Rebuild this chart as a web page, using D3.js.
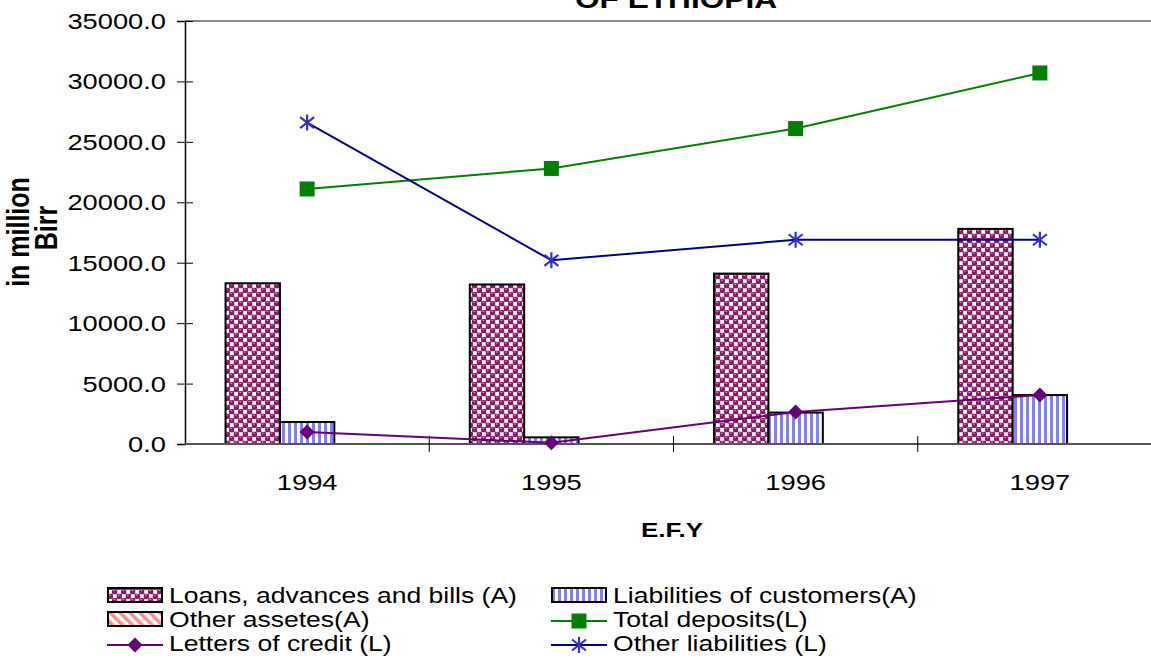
<!DOCTYPE html>
<html lang="en">
<head>
<meta charset="UTF-8">
<title>Commercial banks of Ethiopia</title>
<script src="https://d3js.org/d3.v7.min.js"></script>
<style>
    body { margin: 0; background: #fff; }
    svg { display: block; font-family: Arial, "Liberation Sans", sans-serif; }
</style>
</head>
<body>
<svg id="chart" width="1151" height="663"></svg>
<script>
// data (million Birr)
const years = ["1994", "1995", "1996", "1997"];
const loans = [13300, 13200, 14100, 17800];
const liabCustomers = [1820, 550, 2600, 4050];
const otherAssets = [0, 0, 0, 0];
const totalDeposits = [21100, 22800, 26100, 30700];
const otherLiabilities = [26600, 15200, 16900, 16900];
const lettersCredit = [1000, 100, 2650, 4050];
const yTicks = [0, 5000, 10000, 15000, 20000, 25000, 30000, 35000];

const svg = d3.select("#chart");
const sx = 1.24; // the original picture is stretched sideways

// plot area
const plotLeft = 185, plotTop = 21, plotBottom = 444, plotRight = 1151;

// patterns for the bars
const defs = svg.append("defs");

const sphere = defs.append("pattern").attr("id", "sphere")
    .attr("patternUnits", "userSpaceOnUse").attr("width", 9).attr("height", 9);
sphere.append("rect").attr("width", 9).attr("height", 9).attr("fill", "#b2649c");
[[6.75, 2.25], [2.25, 6.75]].forEach(c => {
    sphere.append("rect").attr("x", c[0] - 1.9).attr("y", c[1] - 1.9).attr("width", 3.8).attr("height", 3.8).attr("fill", "#fff");
});
[[2.25, 2.25], [6.75, 6.75]].forEach(c => {
    sphere.append("circle").attr("cx", c[0]).attr("cy", c[1]).attr("r", 2.8).attr("fill", "#881a68");
    sphere.append("rect").attr("x", c[0] - 1.2).attr("y", c[1] - 1.6).attr("width", 1.6).attr("height", 0.9).attr("fill", "#e0b4d4");
});

const vstripe = defs.append("pattern").attr("id", "vstripe")
    .attr("patternUnits", "userSpaceOnUse").attr("width", 6).attr("height", 6);
vstripe.append("rect").attr("width", 6).attr("height", 6).attr("fill", "#fff");
vstripe.append("rect").attr("width", 3).attr("height", 6).attr("fill", "#7f7fff");

const dstripe = defs.append("pattern").attr("id", "dstripe")
    .attr("patternUnits", "userSpaceOnUse").attr("width", 7).attr("height", 7)
    .attr("patternTransform", "rotate(-45)");
dstripe.append("rect").attr("width", 7).attr("height", 7).attr("fill", "#fff");
dstripe.append("rect").attr("width", 3.5).attr("height", 7).attr("fill", "#ff8c8c");

// scales
const x0 = d3.scaleBand().domain(years).range([plotLeft, 1162])
    .paddingInner(0.332).paddingOuter(0.166);
const barSeries = [
    { name: "Loans, advances and bills (A)", values: loans, fill: "url(#sphere)" },
    { name: "Liabilities of customers(A)", values: liabCustomers, fill: "url(#vstripe)" },
    { name: "Other assetes(A)", values: otherAssets, fill: "url(#dstripe)" }
];
const x1 = d3.scaleBand().domain(barSeries.map(d => d.name)).range([0, x0.bandwidth()]);
const y = d3.scaleLinear().domain([0, 35000]).range([plotBottom, plotTop]);

function stretchText(g, x, yy, str, size, weight, anchor) {
    return g.append("text")
        .attr("transform", "translate(" + x + "," + yy + ") scale(" + sx + ",1)")
        .attr("text-anchor", anchor || "start")
        .attr("font-size", size)
        .attr("font-weight", weight || "normal")
        .attr("fill", "#000")
        .text(str);
}

// title (only its last line shows, as in the original)
stretchText(svg, 676, 8, "OF ETHIOPIA", 25.5, "bold", "middle");

// top border of plot area
svg.append("line").attr("x1", plotLeft).attr("x2", plotRight).attr("y1", y(35000)).attr("y2", y(35000))
    .attr("stroke", "#8a8a8a").attr("stroke-width", 2);

// bars
barSeries.forEach(s => {
    svg.append("g").selectAll("rect")
        .data(s.values.map((v, i) => ({ v: v, yr: years[i] })).filter(d => d.v > 0))
        .join("rect")
        .attr("x", d => x0(d.yr) + x1(s.name))
        .attr("y", d => y(d.v))
        .attr("width", x1.bandwidth())
        .attr("height", d => plotBottom - y(d.v))
        .attr("fill", s.fill)
        .attr("stroke", "#000")
        .attr("stroke-width", 2);
});

// y axis
const yAxis = svg.append("g").attr("transform", "translate(" + plotLeft + ",0)")
    .call(d3.axisLeft(y).tickValues(yTicks).tickSize(8).tickFormat(() => ""));
yAxis.select(".domain").attr("stroke", "#000").attr("stroke-width", 1.5);
yAxis.selectAll(".tick line").attr("stroke", "#000").attr("x2", -8).attr("x1", 8);
yTicks.forEach(t => stretchText(svg, 166, y(t) + 8, d3.format(".1f")(t), 22, "normal", "end"));

// x axis
svg.append("line").attr("x1", plotLeft).attr("x2", plotRight).attr("y1", plotBottom).attr("y2", plotBottom)
    .attr("stroke", "#555").attr("stroke-width", 2);
years.forEach((yr, i) => {
    const tx = x0(yr) - x0.step() * x0.paddingInner() / 2;
    if (i > 0) {
        svg.append("line").attr("x1", tx).attr("x2", tx).attr("y1", plotBottom - 8).attr("y2", plotBottom + 8)
            .attr("stroke", "#000").attr("stroke-width", 1);
    }
    stretchText(svg, x0(yr) + x0.bandwidth() / 2, 490, yr, 22, "normal", "middle");
});

// axis titles
stretchText(svg, 672, 537, "E.F.Y", 21, "bold", "middle");
svg.append("text")
    .attr("transform", "translate(29,232) scale(" + sx + ",1) rotate(-90)")
    .attr("text-anchor", "middle").attr("font-size", 25).attr("font-weight", "bold")
    .text("in million");
svg.append("text")
    .attr("transform", "translate(57,228) scale(" + sx + ",1) rotate(-90)")
    .attr("text-anchor", "middle").attr("font-size", 25).attr("font-weight", "bold")
    .text("Birr");

// markers
function marker(g, type, color) {
    if (type === "square") {
        g.append("rect").attr("x", -7.5).attr("y", -7.5).attr("width", 15).attr("height", 15).attr("fill", color);
    } else if (type === "diamond") {
        g.append("path").attr("d", "M0,-7.5L7.5,0L0,7.5L-7.5,0Z").attr("fill", color);
    } else {
        g.append("path").attr("d", "M0,-8V8M-7,-5.5L7,5.5M-7,5.5L7,-5.5")
            .attr("stroke", color).attr("stroke-width", 2.2).attr("fill", "none");
    }
}

const lineSeries = [
    { name: "Total deposits(L)", values: totalDeposits, color: "#008000", mcolor: "#008000", type: "square" },
    { name: "Letters of credit (L)", values: lettersCredit, color: "#660077", mcolor: "#660077", type: "diamond" },
    { name: "Other liabilities (L)", values: otherLiabilities, color: "#000080", mcolor: "#3030cc", type: "star" }
];
const cx = yr => x0(yr) + x0.bandwidth() / 2;
const line = d3.line().x((d, i) => cx(years[i])).y(d => y(d));
lineSeries.forEach(s => {
    svg.append("path").datum(s.values).attr("d", line)
        .attr("fill", "none").attr("stroke", s.color).attr("stroke-width", 2);
    s.values.forEach((v, i) => {
        marker(svg.append("g").attr("transform", "translate(" + cx(years[i]) + "," + y(v) + ")"), s.type, s.mcolor);
    });
});

// legend
const legendItems = [
    { kind: "bar", s: barSeries[0] }, { kind: "bar", s: barSeries[1] },
    { kind: "bar", s: barSeries[2] }, { kind: "line", s: lineSeries[0] },
    { kind: "line", s: lineSeries[1] }, { kind: "line", s: lineSeries[2] }
];
const colX = [107, 551], rowY = [595, 619, 643];
legendItems.forEach((it, i) => {
    const lx = colX[i % 2], ly = rowY[Math.floor(i / 2)];
    const g = svg.append("g");
    if (it.kind === "bar") {
        g.append("rect").attr("x", lx + 1).attr("y", ly - 7).attr("width", 54).attr("height", 14)
            .attr("fill", it.s.fill).attr("stroke", "#000").attr("stroke-width", 2);
    } else {
        g.append("line").attr("x1", lx).attr("x2", lx + 56).attr("y1", ly + 2).attr("y2", ly + 2)
            .attr("stroke", it.s.color).attr("stroke-width", 2);
        marker(g.append("g").attr("transform", "translate(" + (lx + 28) + "," + (ly + 2) + ")"), it.s.type, it.s.mcolor);
    }
    stretchText(g, lx + 62, ly + 8, it.s.name, 21.4, "normal", "start");
});
</script>
</body>
</html>
